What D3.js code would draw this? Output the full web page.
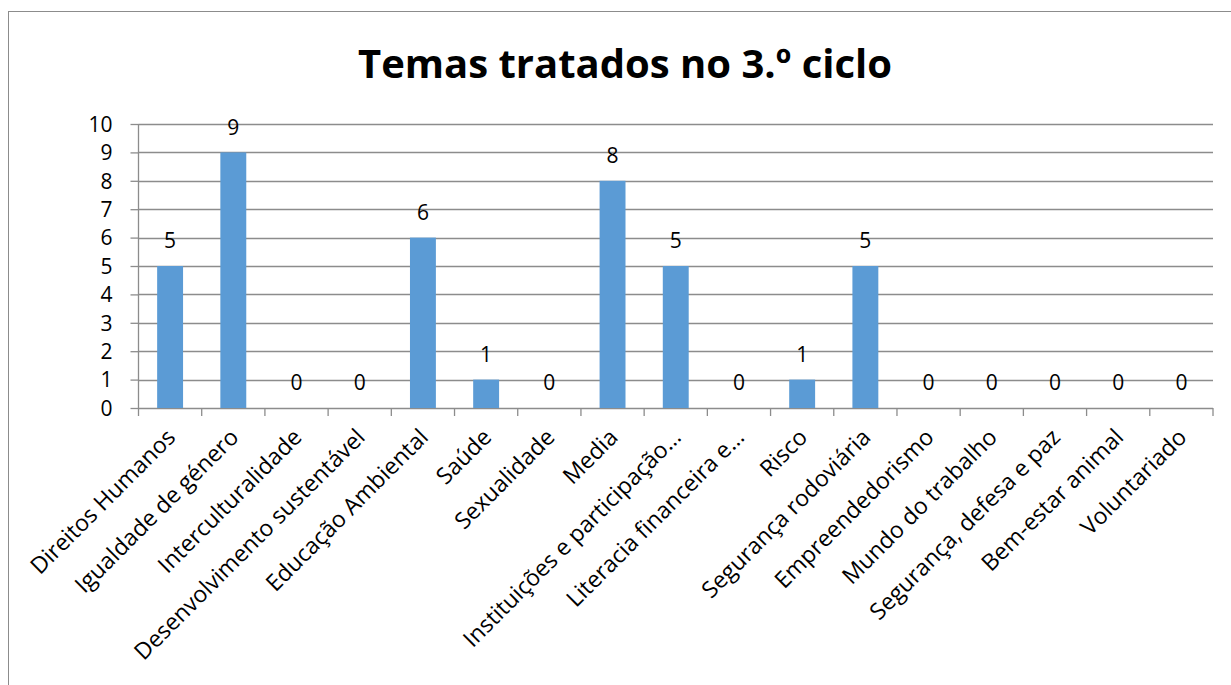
<!DOCTYPE html>
<html>
<head>
<meta charset="utf-8">
<script src="https://cdn.jsdelivr.net/npm/d3@7"></script>
<style>
	body { margin: 0; background: #fff; }
	svg text { font-family: "Open Sans", sans-serif; fill: #000; }
</style>
</head>
<body>
<div class="view-container"></div>
<script>
'use strict';

var TITLE = 'Temas tratados no 3.º ciclo';
var categories = [
	'Direitos Humanos', 'Igualdade de género', 'Interculturalidade',
	'Desenvolvimento sustentável', 'Educação Ambiental', 'Saúde', 'Sexualidade',
	'Media', 'Instituições e participação…', 'Literacia financeira e…', 'Risco',
	'Segurança rodoviária', 'Empreendedorismo', 'Mundo do trabalho',
	'Segurança, defesa e paz', 'Bem-estar animal', 'Voluntariado'
];
var values = [5, 9, 0, 0, 6, 1, 0, 8, 5, 0, 1, 5, 0, 0, 0, 0, 0];
var yTicks = [0, 1, 2, 3, 4, 5, 6, 7, 8, 9, 10];

var BAR = '#5b9bd5';
var GRID = '#8c8c8c';

var width = 1231, height = 685;
var plot = { left: 138.5, right: 1213, top: 124, bottom: 408 };

var svg = d3.select('.view-container').append('svg')
	.attr('width', width)
	.attr('height', height);

// chart frame
svg.append('rect')
	.attr('x', 8.5).attr('y', 11.5)
	.attr('width', 1240).attr('height', 700)
	.style('fill', 'none').style('stroke', GRID).style('stroke-width', 1);

svg.append('text')
	.attr('x', 625).attr('y', 78)
	.attr('text-anchor', 'middle')
	.style('font-size', '40px').style('font-weight', 'bold')
	.text(TITLE);

var x = d3.scaleBand()
	.domain(categories)
	.range([plot.left, plot.right])
	.paddingInner(0.59).paddingOuter(0.295);

var xStep = d3.scaleLinear()
	.domain([0, categories.length])
	.range([plot.left, plot.right]);

var y = d3.scaleLinear()
	.domain([0, 10])
	.range([plot.bottom, plot.top]);

// y axis labels and tick stubs
var yAxis = svg.append('g')
	.attr('transform', 'translate(' + plot.left + ',0)')
	.call(d3.axisLeft(y).tickValues(yTicks).tickSize(8).tickPadding(18).tickFormat(d3.format('d')));
yAxis.select('.domain').remove();
yAxis.selectAll('line').style('stroke', GRID).style('stroke-width', 1.3);
yAxis.selectAll('text').style('font-size', '21px').attr('dy', '0.35em');

// horizontal gridlines
svg.append('g').selectAll('line')
	.data(yTicks)
	.join('line')
	.attr('x1', plot.left).attr('x2', plot.right)
	.attr('y1', function(d) { return Math.round(y(d)) + 0.5; })
	.attr('y2', function(d) { return Math.round(y(d)) + 0.5; })
	.style('stroke', GRID).style('stroke-width', 1.3);

svg.append('line')
	.attr('x1', plot.left).attr('x2', plot.left)
	.attr('y1', plot.top).attr('y2', plot.bottom)
	.style('stroke', GRID).style('stroke-width', 1.3);

// category tick marks
svg.append('g').selectAll('line')
	.data(d3.range(categories.length + 1))
	.join('line')
	.attr('x1', function(i) { return xStep(i); })
	.attr('x2', function(i) { return xStep(i); })
	.attr('y1', plot.bottom).attr('y2', plot.bottom + 8)
	.style('stroke', GRID).style('stroke-width', 1.3);

// bars
svg.append('g').selectAll('rect')
	.data(values)
	.join('rect')
	.attr('x', function(d, i) { return x(categories[i]); })
	.attr('width', x.bandwidth())
	.attr('y', function(d) { return y(d); })
	.attr('height', function(d) { return plot.bottom - y(d); })
	.style('fill', BAR);

// value labels
svg.append('g').selectAll('text')
	.data(values)
	.join('text')
	.attr('x', function(d, i) { return x(categories[i]) + x.bandwidth() / 2; })
	.attr('y', function(d) { return y(d) - 25; })
	.attr('dy', '0.35em')
	.attr('text-anchor', 'middle')
	.style('font-size', '21px')
	.text(function(d) { return d; });

// category labels, rotated
svg.append('g').selectAll('text')
	.data(categories)
	.join('text')
	.attr('text-anchor', 'end')
	.attr('transform', function(d) {
		var cx = x(d) + x.bandwidth() / 2 + 1;
		return 'translate(' + cx + ',' + 433 + ') rotate(-45)';
	})
	.attr('dy', '0.35em')
	.style('font-size', '23px')
	.text(function(d) { return d; });
</script>
</body>
</html>
